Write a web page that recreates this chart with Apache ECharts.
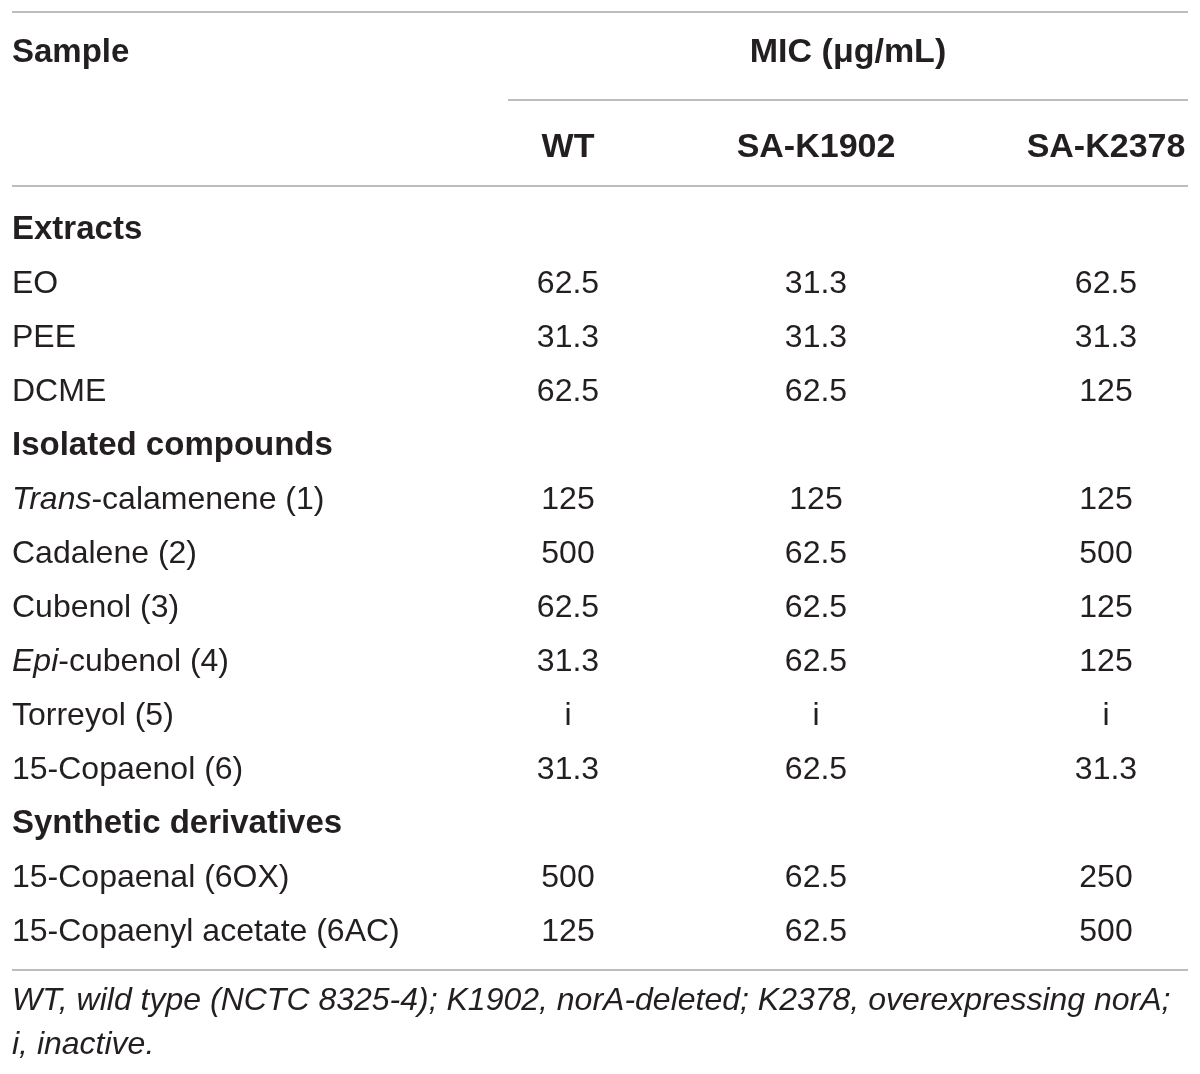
<!DOCTYPE html>
<html>
<head>
<meta charset="utf-8">
<script src="https://cdn.jsdelivr.net/npm/echarts@6/dist/echarts.min.js"></script>
<style>
  html, body { margin: 0; padding: 0; background: #fff; }
  #main { width: 1200px; height: 1074px; }
</style>
</head>
<body>
<div id="main"></div>
<script>
// table data
const rowLabels = [
  'Extracts', 'EO', 'PEE', 'DCME',
  'Isolated compounds', '{it|Trans}-calamenene (1)', 'Cadalene (2)', 'Cubenol (3)',
  '{it|Epi}-cubenol (4)', 'Torreyol (5)', '15-Copaenol (6)',
  'Synthetic derivatives', '15-Copaenal (6OX)', '15-Copaenyl acetate (6AC)'
]
const groupRows = ['Extracts', 'Isolated compounds', 'Synthetic derivatives']
const strains = ['WT', 'SA-K1902', 'SA-K2378']
const micWT = [null, '62.5', '31.3', '62.5', null, '125', '500', '62.5', '31.3', 'i', '31.3', null, '500', '125']
const micK1902 = [null, '31.3', '31.3', '62.5', null, '125', '62.5', '62.5', '62.5', 'i', '62.5', null, '62.5', '62.5']
const micK2378 = [null, '62.5', '31.3', '125', null, '125', '500', '125', '125', 'i', '31.3', null, '250', '500']
const footnote = ['WT, wild type (NCTC 8325-4); K1902, norA-deleted; K2378, overexpressing norA;', 'i, inactive.']

const micCols = [micWT, micK1902, micK2378]
const txt = '#231f20'
const ruleColor = '#bdbdbd'
const font = '"Liberation Sans", Arial, sans-serif'

const chart = echarts.init(document.getElementById('main'))

const bodyTop = 203
const bodyHeight = 756
const colGrids = [
  { left: 468, width: 200 },
  { left: 716, width: 200 },
  { left: 1012, width: 200 }
]

const grids = [{ left: 12, width: 400, top: bodyTop, height: bodyHeight }]
colGrids.forEach(g => grids.push({ left: g.left, width: g.width, top: bodyTop, height: bodyHeight }))

const xAxes = [{ type: 'value', gridIndex: 0, min: 0, max: 1, show: false }]
const yAxes = []
for (let i = 0; i < 4; i++) {
  yAxes.push({ type: 'category', gridIndex: i, data: rowLabels, inverse: true, show: false })
}
strains.forEach((s, k) => {
  xAxes.push({
    type: 'category', gridIndex: k + 1, data: [s], position: 'top',
    axisLine: { show: false }, axisTick: { show: false }, splitLine: { show: false },
    axisLabel: { margin: 38, color: txt, fontFamily: font, fontWeight: 'bold', fontSize: 34 }
  })
})

const series = [{
  type: 'scatter', xAxisIndex: 0, yAxisIndex: 0, symbolSize: 0, silent: true,
  itemStyle: { opacity: 1 },
  data: rowLabels.map((r, i) => [0, i]),
  label: {
    show: true, position: 'right', distance: 0,
    fontFamily: font, fontSize: 32, color: txt,
    formatter: p => {
      const name = rowLabels[p.dataIndex]
      return groupRows.includes(name) ? '{b|' + name + '}' : name
    },
    rich: {
      b: { fontFamily: font, fontSize: 33, fontWeight: 'bold', color: txt },
      it: { fontFamily: font, fontSize: 32, fontStyle: 'italic', color: txt }
    }
  }
}]
micCols.forEach((col, k) => {
  const pts = []
  col.forEach((v, i) => { if (v !== null) pts.push({ value: [0, i], label: { formatter: v } }) })
  series.push({
    type: 'scatter', xAxisIndex: k + 1, yAxisIndex: k + 1, symbolSize: 0, silent: true,
    itemStyle: { opacity: 1 },
    data: pts,
    label: { show: true, position: 'inside', fontFamily: font, fontSize: 32, color: txt }
  })
})

const line = (x1, y1, x2, y2) => ({
  type: 'line', shape: { x1, y1, x2, y2 }, style: { stroke: ruleColor, lineWidth: 2 }, silent: true
})

chart.setOption({
  animation: false,
  grid: grids,
  xAxis: xAxes,
  yAxis: yAxes,
  series: series,
  graphic: [
    line(12, 12, 1188, 12),
    line(508, 100, 1188, 100),
    line(12, 186, 1188, 186),
    line(12, 970, 1188, 970),
    { type: 'text', x: 12, y: 53, style: { text: 'Sample', font: 'bold 33px ' + font, fill: txt, verticalAlign: 'middle' } },
    { type: 'text', x: 848, y: 53, style: { text: 'MIC (μg/mL)', font: 'bold 34px ' + font, fill: txt, align: 'center', verticalAlign: 'middle' } },
    { type: 'text', x: 12, y: 1001, style: { text: footnote[0], font: 'italic 32px ' + font, fill: txt, verticalAlign: 'middle' } },
    { type: 'text', x: 12, y: 1045, style: { text: footnote[1], font: 'italic 32px ' + font, fill: txt, verticalAlign: 'middle' } }
  ]
})
</script>
</body>
</html>
